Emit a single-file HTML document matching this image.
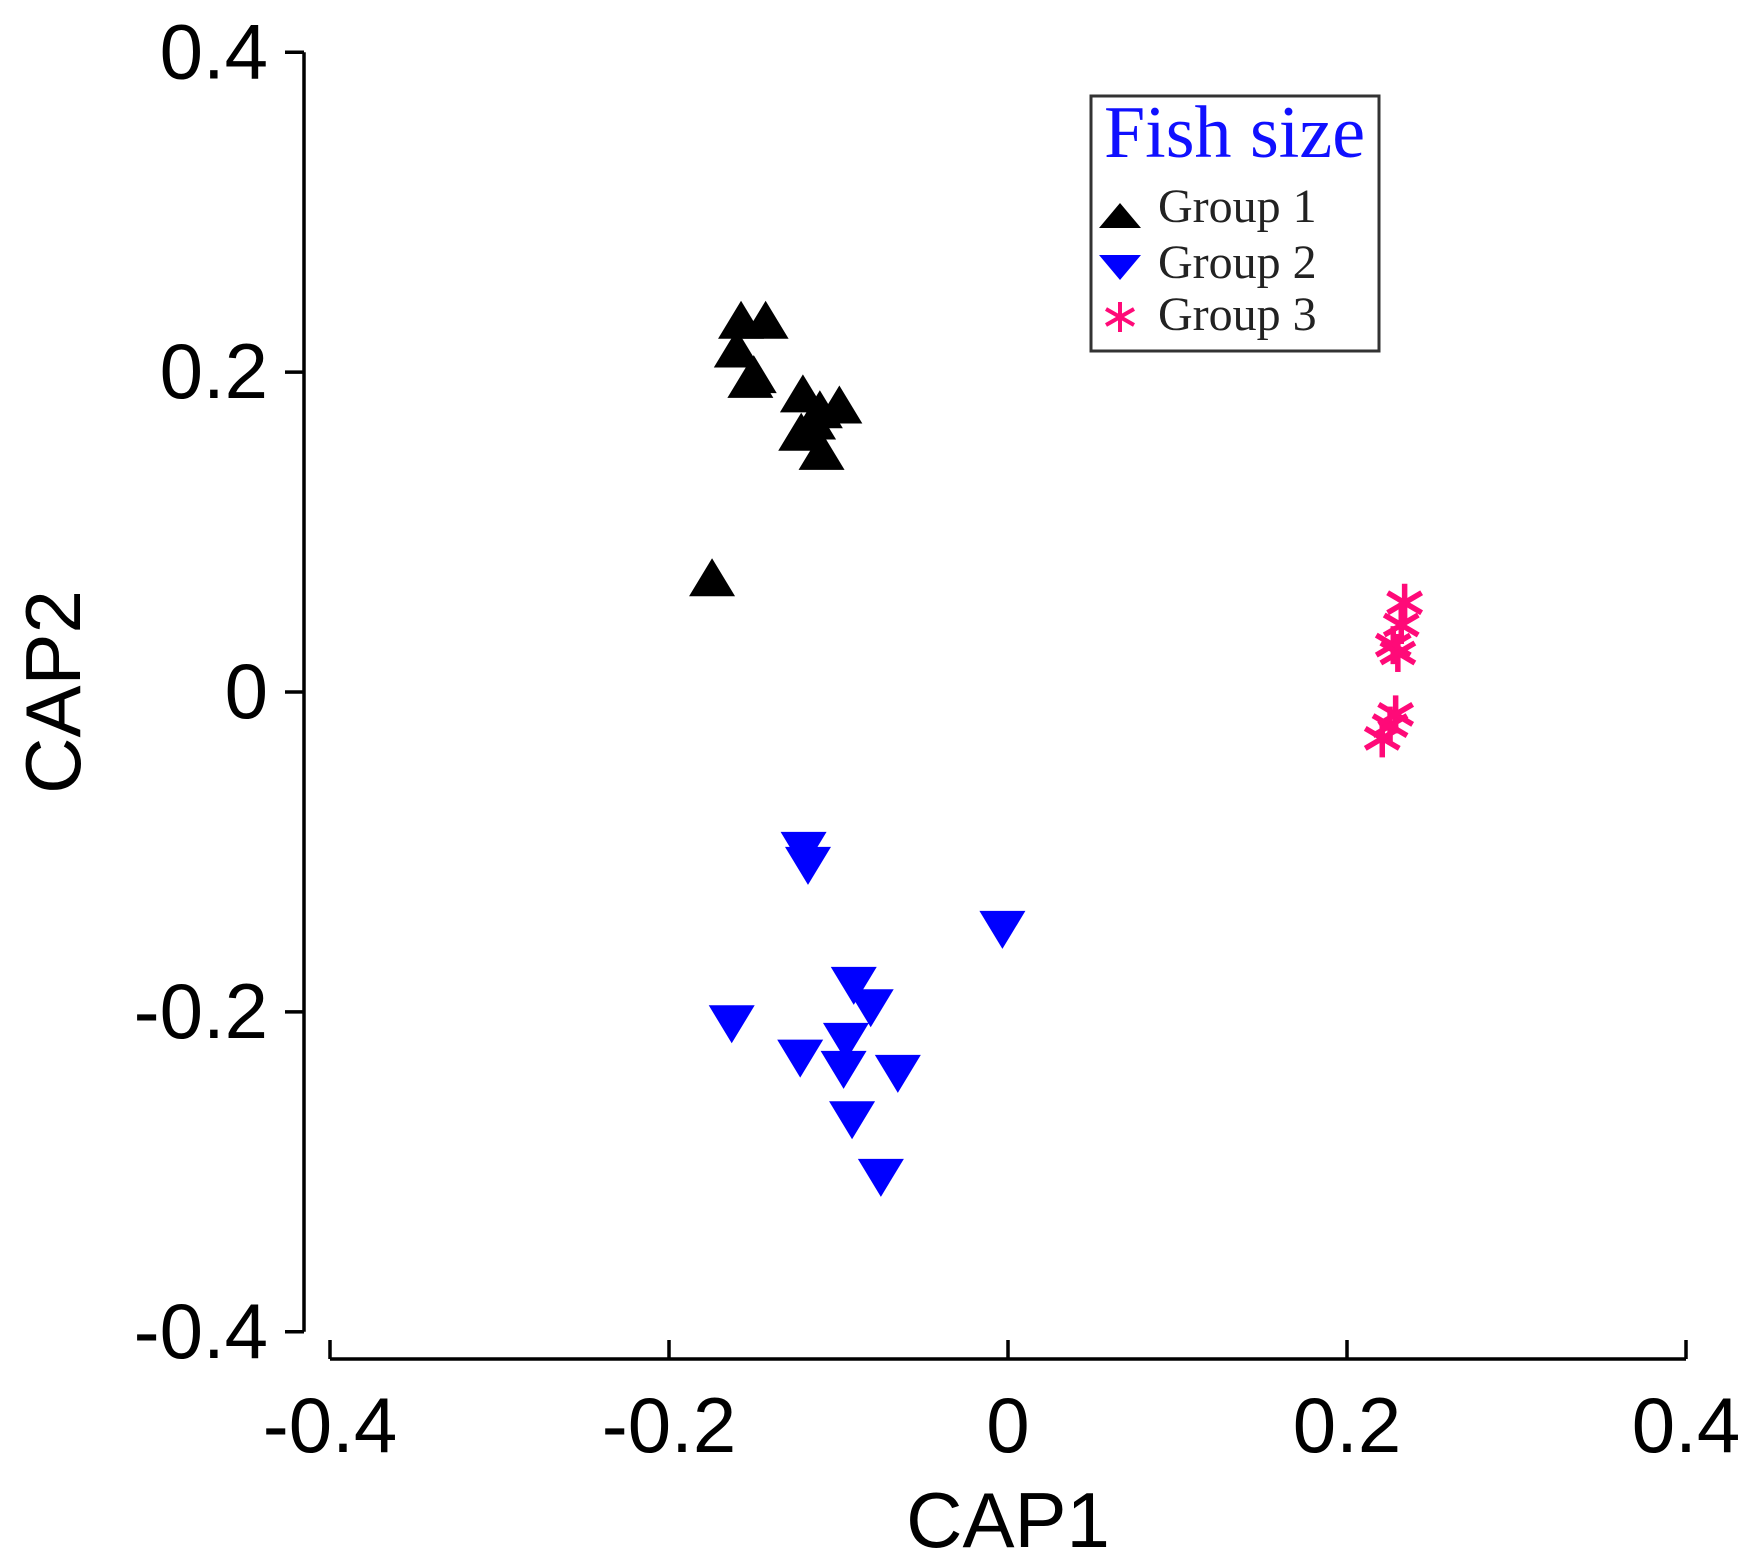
<!DOCTYPE html>
<html><head><meta charset="utf-8"><style>
html,body{margin:0;padding:0;background:#fff;}
svg{display:block;}
.tick{font-family:"Liberation Sans",sans-serif;font-size:78px;fill:#000;}
</style></head><body>
<svg id="chart" width="1751" height="1561" viewBox="0 0 1751 1561" xmlns="http://www.w3.org/2000/svg">
<g id="axes"></g>
<g id="marks"></g>
<text x="1008" y="1547" text-anchor="middle" class="tick">CAP1</text>
<text transform="translate(80,692) rotate(-90)" text-anchor="middle" class="tick">CAP2</text>
<g>
<rect x="1091" y="96" width="288" height="255" fill="#fff" stroke="#333" stroke-width="3"/>
<text x="1104" y="157" font-family="'Liberation Serif',serif" font-size="74" fill="#1010ff">Fish size</text>
<polygon points="1120,203 1141,228 1099,228" fill="#000"/>
<text x="1158" y="222" font-family="'Liberation Serif',serif" font-size="48" fill="#222">Group 1</text>
<polygon points="1099,255 1141,255 1120,280" fill="#0000ff"/>
<text x="1158" y="278" font-family="'Liberation Serif',serif" font-size="48" fill="#222">Group 2</text>
<g stroke="#ff0a78" stroke-width="4"><line x1="1120" y1="302" x2="1120" y2="332"/><line x1="1106" y1="309" x2="1134" y2="325"/><line x1="1106" y1="325" x2="1134" y2="309"/></g>
<text x="1158" y="330" font-family="'Liberation Serif',serif" font-size="48" fill="#222">Group 3</text>
</g>
</svg>
<script>
const xTicks=[-0.4,-0.2,0,0.2,0.4];
const yTicks=[-0.4,-0.2,0,0.2,0.4];
const xTickLabels=["-0.4","-0.2","0","0.2","0.4"];
const yTickLabels=["-0.4","-0.2","0","0.2","0.4"];
const g1x=[-0.1575,-0.143,-0.160,-0.150,-0.152,-0.121,-0.111,-0.0995,-0.115,-0.122,-0.110,-0.1746];
const g1y=[0.229,0.229,0.211,0.195,0.192,0.183,0.173,0.176,0.166,0.159,0.147,0.068];
const g2x=[-0.1206,-0.118,-0.0033,-0.091,-0.081,-0.163,-0.0956,-0.1226,-0.097,-0.065,-0.092,-0.075];
const g2y=[-0.0956,-0.105,-0.145,-0.180,-0.194,-0.204,-0.215,-0.2255,-0.2325,-0.235,-0.264,-0.300];
const g3x=[0.234,0.232,0.2273,0.230,0.2254,0.2208,0.2287];
const g3y=[0.0558,0.0419,0.0293,0.0244,-0.021,-0.029,-0.014];

const NS="http://www.w3.org/2000/svg";
function sx(v){return 1008+v*(1686-330)/0.8;}
function sy(v){return 692-v*(1332-52.5)/0.8;}
function mk(tag,attrs,parent){const e=document.createElementNS(NS,tag);for(const k in attrs)e.setAttribute(k,attrs[k]);parent.appendChild(e);return e;}
const axes=document.getElementById('axes');
const marks=document.getElementById('marks');
let yl=mk('line',{x1:304,y1:sy(0.4),x2:304,y2:sy(-0.4),stroke:'#000','stroke-width':3.5},axes);


let xl=mk('line',{x1:sx(-0.4),y1:1359,x2:sx(0.4),y2:1359,stroke:'#000','stroke-width':3.5},axes);


yTicks.forEach((v,i)=>{
  const t=mk('line',{x1:285,y1:sy(v),x2:304,y2:sy(v),stroke:'#000','stroke-width':3.5},axes);
  
  
  const l=mk('text',{x:268,y:sy(v)+26,'text-anchor':'end',class:'tick'},axes);
  l.textContent=yTickLabels[i];
  
  
});
xTicks.forEach((v,i)=>{
  const t=mk('line',{x1:sx(v),y1:1340,x2:sx(v),y2:1359,stroke:'#000','stroke-width':3.5},axes);
  
  
  const l=mk('text',{x:sx(v),y:1452,'text-anchor':'middle',class:'tick'},axes);
  l.textContent=xTickLabels[i];
  
  
});
g1x.forEach((v,i)=>{
  const cx=sx(v),cy=sy(g1y[i]);
  const p=mk('polygon',{points:`${cx},${cy-25} ${cx+23},${cy+13} ${cx-23},${cy+13}`,fill:'#000'},marks);
  
  
});
g2x.forEach((v,i)=>{
  const cx=sx(v),cy=sy(g2y[i]);
  const p=mk('polygon',{points:`${cx-23},${cy-13} ${cx+23},${cy-13} ${cx},${cy+25}`,fill:'#0000ff'},marks);
  
  
});
g3x.forEach((v,i)=>{
  const cx=sx(v),cy=sy(g3y[i]);
  const g=mk('g',{stroke:'#ff0a78','stroke-width':5.5},marks);
  
  
  mk('line',{x1:cx,y1:cy-19,x2:cx,y2:cy+19},g);
  mk('line',{x1:cx-17,y1:cy-10,x2:cx+17,y2:cy+10},g);
  mk('line',{x1:cx-17,y1:cy+10,x2:cx+17,y2:cy-10},g);
});
</script>
</body></html>
